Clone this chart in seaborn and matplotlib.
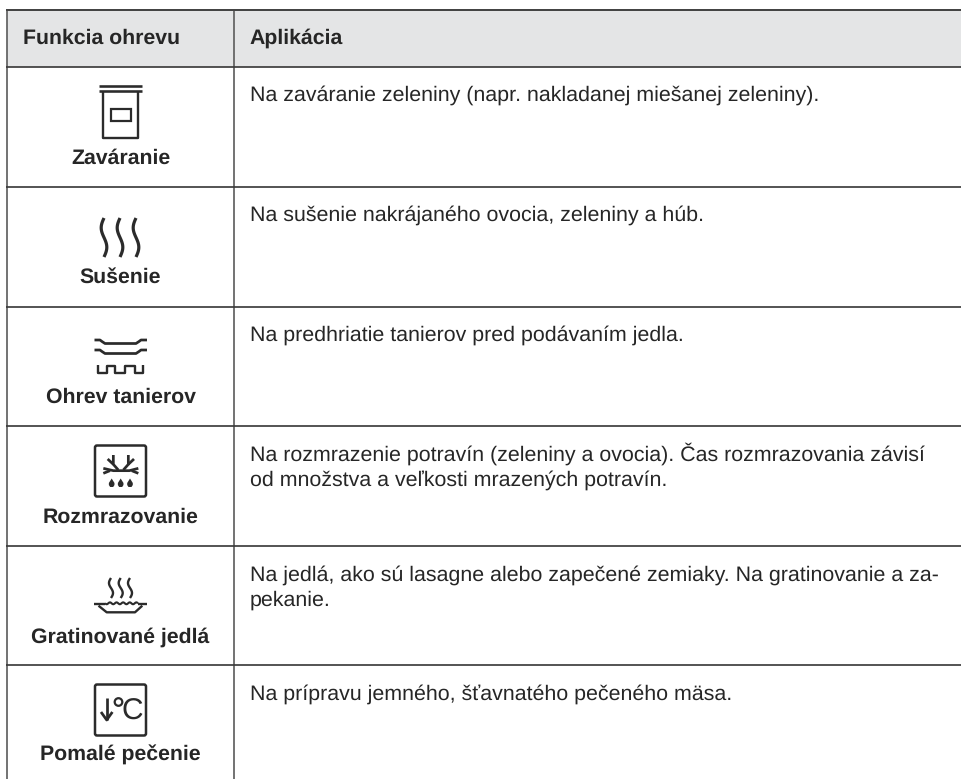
import numpy as np
import matplotlib
matplotlib.use("Agg")
import matplotlib.pyplot as plt
from matplotlib.patches import Rectangle, FancyBboxPatch, Polygon, Circle
import seaborn as sns

sns.set_theme(style="white")
plt.rcParams['font.family'] = ['Liberation Sans', 'DejaVu Sans']
plt.rcParams['text.hinting'] = 'no_hinting'
plt.rcParams['text.hinting_factor'] = 8

header = ["Funkcia ohrevu", "Aplikácia"]
functions = ["Zaváranie", "Sušenie", "Ohrev tanierov", "Rozmrazovanie",
             "Gratinované jedlá", "Pomalé pečenie"]
applications = [
    ["Na zaváranie zeleniny (napr. nakladanej miešanej zeleniny)."],
    ["Na sušenie nakrájaného ovocia, zeleniny a húb."],
    ["Na predhriatie tanierov pred podávaním jedla."],
    ["Na rozmrazenie potravín (zeleniny a ovocia). Čas rozmrazovania závisí",
     "od množstva a veľkosti mrazených potravín."],
    ["Na jedlá, ako sú lasagne alebo zapečené zemiaky. Na gratinovanie a za-",
     "pekanie."],
    ["Na prípravu jemného, šťavnatého pečeného mäsa."],
]

W, H = 961, 779
INK = "#2b2b2b"
TXT = "#262626"
fig = plt.figure(figsize=(W / 100, H / 100), dpi=100, facecolor="white")
ax = fig.add_axes([0, 0, 1, 1])
ax.set_xlim(0, W)
ax.set_ylim(H, 0)
ax.axis("off")

X0, X1 = 7.2, 234.2
Y_TOP = 10
ROWS = [67, 187, 306.7, 426, 545.7, 665.3]


def stroke(xs, ys, lw=2.2, color=INK, cap="butt"):
    scale = 0.85 if color == INK else 0.72
    ax.plot(xs, ys, color=color, lw=lw * scale, solid_capstyle=cap,
            solid_joinstyle="round")


# table frame: open on the right, running to the image edge
ax.add_patch(Rectangle((X0, Y_TOP), W - X0, ROWS[0] - Y_TOP, fc="#e4e5e6", ec="none"))
for x in (X0, X1):
    stroke([x, x], [Y_TOP, H], lw=1.8, color="#666666")
stroke([X0 - 1, W], [Y_TOP, Y_TOP], lw=2, color="#444444")
for y in ROWS:
    stroke([X0 - 1, W], [y, y], lw=1.7, color="#3a3a3a")

# text
BOLD = 15.3
BODY = 15.4
LINE_GAP = 25
ax.text(23, 43.3, header[0], fontsize=BOLD, fontweight="bold", color=TXT, va="baseline")
ax.text(249.5, 43.3, header[1], fontsize=BOLD, fontweight="bold", color=TXT, va="baseline")
label_y = [163.5, 283, 402.7, 523, 642.7, 760.7]
app_y = [101, 221, 341, 461, 581, 700]
for name, ly in zip(functions, label_y):
    ax.text(120.5, ly, name, fontsize=BOLD, fontweight="bold", color=TXT,
            ha="center", va="baseline")
for lines, ty in zip(applications, app_y):
    for i, line in enumerate(lines):
        ax.text(249.5, ty + i * LINE_GAP, line, fontsize=BODY, color=TXT, va="baseline")

# --- icon 1: jar
stroke([99, 142], [86, 86], lw=2.2)
stroke([99, 142], [90.7, 90.7], lw=2.2)
stroke([103.3, 103.3, 138, 138], [91, 137.5, 137.5, 91], lw=2)
ax.add_patch(Rectangle((110.5, 108.5), 20.5, 12.5, fc="none", ec=INK, lw=1.6))

# --- icon 2: waves
t = np.linspace(0, 1, 60)
for cx in (104, 120, 136):
    stroke(cx - 2.8 * np.sin(2 * np.pi * t), 218 + 39 * t, lw=2.7)


# --- icon 3: plates + heating
def plate(y):
    stroke([94.5, 100, 102, 105, 136, 139, 141, 147],
           [y, y, y + 1.5, y + 3.5, y + 3.5, y + 1.5, y, y], lw=2.3)


plate(340)
plate(350)
stroke([98.3, 98.3, 106.7, 106.7, 115, 115, 125, 125, 135, 135, 143.3, 143.3],
       [365, 372.5, 372.5, 366, 366, 372.5, 372.5, 366, 366, 372.5, 372.5, 365], lw=2)

# --- icon 4: defrost box
ax.add_patch(FancyBboxPatch((95, 445.5), 51, 51, boxstyle="round,pad=0,rounding_size=2",
                            fc="none", ec=INK, lw=1.8))


def snow(xv, yv, lw=2.3):
    stroke(85 + np.array(xv) / 3, 435 + np.array(yv) / 3, lw=lw)


snow([55, 85, 133, 160], [100, 107, 107, 100])
snow([55, 75], [115, 107])
snow([160, 140], [115, 107])
snow([100, 85, 85], [105, 88, 60])
snow([85, 68], [88, 72])
snow([115, 130, 130], [105, 88, 60])
snow([130, 147], [88, 72])
for dv in (80, 107, 135):
    dx = 85 + dv / 3
    ax.add_patch(Polygon([(dx, 478.5), (dx + 2.8, 483), (dx + 2.8, 485), (dx + 1.5, 487),
                          (dx - 1.5, 487), (dx - 2.8, 485), (dx - 2.8, 483)],
                         fc=INK, ec="none"))

# --- icon 5: gratin
for cx in (111, 120.7, 130):
    stroke(cx - 2 * np.sin(2 * np.pi * t), 578 + 20 * t, lw=2)
xs = np.linspace(105, 138, 120)
stroke([94.3, 105], [603.5, 603.5], lw=2)
stroke(xs, 603.3 + 0.9 * np.sin((xs - 105) * 2 * np.pi / 6.6), lw=1.8)
stroke([138, 146.7], [603.5, 603.5], lw=2)
stroke([98.5, 106.7, 135, 142.3], [605.7, 612.3, 612.3, 605.7], lw=2)

# --- icon 6: slow roast
ax.add_patch(FancyBboxPatch((95, 684.5), 51, 51, boxstyle="round,pad=0,rounding_size=2",
                            fc="none", ec=INK, lw=1.8))
stroke([106.7, 106.7], [698, 720], lw=2.3)
stroke([101, 106.7, 112.4], [712, 720, 712], lw=2.3)
ax.add_patch(Circle((118.5, 702), 3.8, fc="none", ec=INK, lw=1.6))
ax.text(132.5, 720, "C", fontsize=21.5, color=INK, ha="center", va="baseline",
        family=["Liberation Sans Narrow", "Liberation Sans"])

fig.savefig("out.png", dpi=100, facecolor="white")
